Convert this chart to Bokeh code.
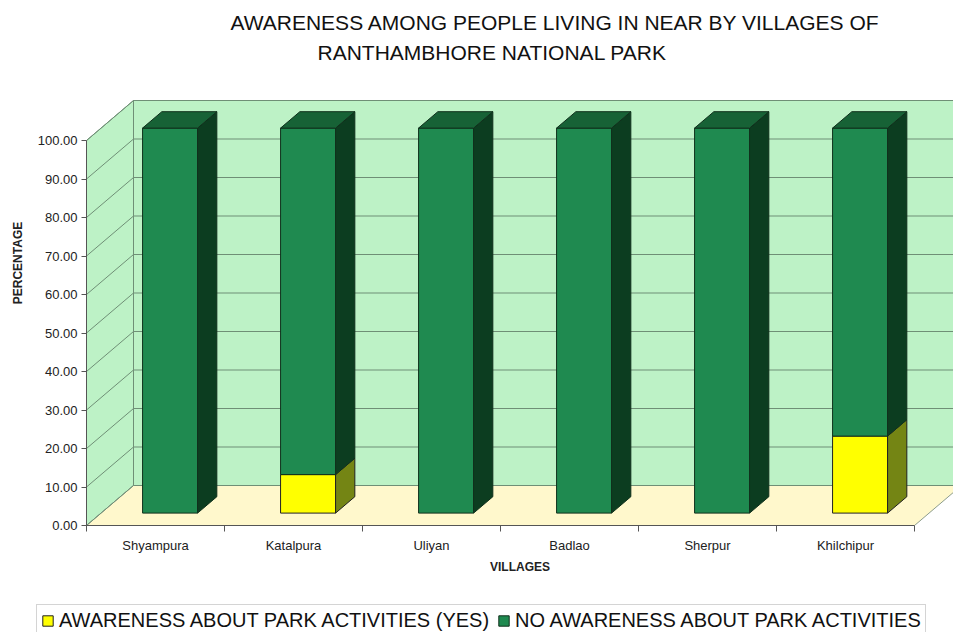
from bokeh.plotting import figure
from bokeh.models import (Range1d, FixedTicker, PrintfTickFormatter, Legend, LegendItem,
                          ColumnDataSource)
from bokeh.core.properties import value
from bokeh.embed import file_html
from bokeh.resources import INLINE

# ---------------- data ----------------
villages = ["Shyampura", "Katalpura", "Uliyan", "Badlao", "Sherpur", "Khilchipur"]
aware_yes = [0, 10, 0, 0, 0, 20]
aware_no = [100, 90, 100, 100, 100, 80]
y_ticks = [0, 10, 20, 30, 40, 50, 60, 70, 80, 90, 100]
series_names = ["AWARENESS ABOUT PARK ACTIVITIES (YES)", "NO AWARENESS ABOUT PARK ACTIVITIES"]
title_lines = ["AWARENESS AMONG PEOPLE LIVING IN NEAR BY VILLAGES OF",
               "RANTHAMBHORE  NATIONAL PARK"]

FONT = "Liberation Sans"

# ---------------- layout / 3D geometry ----------------
FRAME_LEFT = 86
FRAME_H = 525
PXX = 138.0      # px per category
PXY = 3.85       # px per percent
XMAX = 867.0 / PXX
YMAX = FRAME_H / PXY
DX = 47.0 / PXX  # depth offset of back wall
DY = 40.0 / PXY
F1, F2 = 0.31, 0.72  # bar front / back depth fractions
BW = 55.0 / PXX

face_cols = {
    "yes": ("#FFFF00", "#748514", "#B9B800", "#222222"),
    "no": ("#1F8A50", "#0C3D20", "#176236", "#10301C"),
}

p = figure(width=953, height=590, x_range=Range1d(0, XMAX), y_range=Range1d(0, YMAX),
           output_backend="svg", toolbar_location=None, title=None,
           min_border_left=FRAME_LEFT, min_border_right=0, min_border_top=0, min_border_bottom=65,
           background_fill_color="white", border_fill_color="white", outline_line_color=None)
p.xgrid.visible = False
p.ygrid.visible = False

wall = "#BDF2C6"
gridc = "#6F8F76"
n = len(villages)
# back wall and left wall
p.patch([DX, XMAX + 1, XMAX + 1, DX], [DY, DY, 100 + DY, 100 + DY],
        fill_color=wall, line_color=gridc, line_width=1)
p.patch([0, DX, DX, 0], [0, DY, 100 + DY, 100], fill_color=wall, line_color=gridc, line_width=1)
# floor
p.patch([0, n, n + DX, DX], [0, 0, DY, DY], fill_color="#FFF8CC", line_color="#8C9C8C", line_width=1)

# gridlines on back wall and left wall
p.segment(x0=[DX] * len(y_ticks), y0=[v + DY for v in y_ticks],
          x1=[XMAX + 1] * len(y_ticks), y1=[v + DY for v in y_ticks], line_color=gridc, line_width=1)
p.segment(x0=[0] * len(y_ticks), y0=y_ticks,
          x1=[DX] * len(y_ticks), y1=[v + DY for v in y_ticks], line_color=gridc, line_width=1)
p.segment(x0=[DX], y0=[DY], x1=[DX], y1=[100 + DY], line_color=gridc, line_width=1)

# ---------------- bars ----------------
faces = {k: {"front": ([], []), "side": ([], []), "top": ([], [])} for k in face_cols}
ddx = (F2 - F1) * DX
ddy = (F2 - F1) * DY
for i in range(n):
    cx = i + 0.5 + F1 * DX
    x0, x1 = cx - BW / 2, cx + BW / 2
    base = F1 * DY
    segs = [("yes", 0, aware_yes[i]), ("no", aware_yes[i], aware_yes[i] + aware_no[i])]
    segs = [s for s in segs if s[2] - s[1] > 0]
    for j, (k, lo, hi) in enumerate(segs):
        ylo, yhi = lo + base, hi + base
        faces[k]["front"][0].append([x0, x1, x1, x0])
        faces[k]["front"][1].append([ylo, ylo, yhi, yhi])
        faces[k]["side"][0].append([x1, x1 + ddx, x1 + ddx, x1])
        faces[k]["side"][1].append([ylo, ylo + ddy, yhi + ddy, yhi])
        if j == len(segs) - 1:
            faces[k]["top"][0].append([x0, x1, x1 + ddx, x0 + ddx])
            faces[k]["top"][1].append([yhi, yhi, yhi + ddy, yhi + ddy])

for k in ["yes", "no"]:
    fc, sc, tc, lc = face_cols[k]
    p.patches(faces[k]["front"][0], faces[k]["front"][1], fill_color=fc, line_color=lc, line_width=1)
    p.patches(faces[k]["side"][0], faces[k]["side"][1], fill_color=sc, line_color=lc, line_width=1)
    if faces[k]["top"][0]:
        p.patches(faces[k]["top"][0], faces[k]["top"][1], fill_color=tc, line_color=lc, line_width=1)

# ---------------- title (two lines, drawn in the empty area above the walls) ----------------
def px_to_x(px):
    return (px - FRAME_LEFT) / PXX

def py_to_y(py):
    return (FRAME_H - py) / PXY

p.text(x=[px_to_x(230), px_to_x(317)], y=[py_to_y(22), py_to_y(52)], text=title_lines,
       text_font=value(FONT), text_font_size="21px", text_align="left",
       text_baseline="middle", text_color="#111111")

# ---------------- axes ----------------
ya = p.yaxis[0]
ya.ticker = FixedTicker(ticks=y_ticks)
ya.formatter = PrintfTickFormatter(format="%.2f")
ya.bounds = (0, 100)
ya.axis_label = "PERCENTAGE"
ya.axis_label_text_font = FONT
ya.axis_label_text_font_style = "bold"
ya.axis_label_text_font_size = "12px"
ya.axis_label_text_color = "#222222"
ya.axis_label_standoff = 10
ya.major_label_text_font = FONT
ya.major_label_text_font_size = "13px"
ya.major_label_text_color = "#222222"
ya.major_label_standoff = 4
ya.major_tick_out = 5
ya.major_tick_in = 0
ya.minor_tick_out = 0
ya.minor_tick_in = 0
ya.axis_line_color = "#555555"
ya.major_tick_line_color = "#555555"

xa = p.xaxis[0]
xa.ticker = FixedTicker(ticks=[i + 0.5 for i in range(n)], minor_ticks=list(range(n + 1)))
xa.major_label_overrides = {i + 0.5: v for i, v in enumerate(villages)}
xa.bounds = (0, n)
xa.axis_label = "VILLAGES"
xa.axis_label_text_font = FONT
xa.axis_label_text_font_style = "bold"
xa.axis_label_text_font_size = "12px"
xa.axis_label_text_color = "#222222"
xa.axis_label_standoff = 4
xa.major_label_text_font = FONT
xa.major_label_text_font_size = "13px"
xa.major_label_text_color = "#222222"
xa.major_label_standoff = 6
xa.major_tick_out = 0
xa.major_tick_in = 0
xa.minor_tick_out = 6
xa.minor_tick_in = 0
xa.axis_line_color = "#555555"
xa.minor_tick_line_color = "#555555"

# ---------------- legend strip (separate root, so its frame spans the full width) ----------------
p2 = figure(width=953, height=42, x_range=Range1d(0, 1), y_range=Range1d(0, 1),
            output_backend="svg", toolbar_location=None, title=None,
            min_border_left=0, min_border_right=0, min_border_top=0, min_border_bottom=0,
            x_axis_location=None, y_axis_location=None, outline_line_color=None,
            background_fill_color="white", border_fill_color="white")
p2.xgrid.visible = False
p2.ygrid.visible = False
legend_renderers = []
for k in ["yes", "no"]:
    fc, sc, tc, lc = face_cols[k]
    # placeholder shape outside the visible range: only its legend swatch is shown
    src = ColumnDataSource(dict(xs=[[-10, -9, -9, -10]], ys=[[-10, -10, -9, -9]]))
    legend_renderers.append(p2.patches("xs", "ys", source=src, fill_color=fc, line_color=lc, line_width=1))

legend = Legend(items=[LegendItem(label=series_names[0], renderers=[legend_renderers[0]]),
                       LegendItem(label=series_names[1], renderers=[legend_renderers[1]])],
                orientation="horizontal", location=(36, -5),
                label_text_font=FONT, label_text_font_size="20px", label_text_color="#111111",
                glyph_width=13, glyph_height=13, label_standoff=5, spacing=8,
                padding=4, margin=0, border_line_color="#AAAAAA", background_fill_color="white")
p2.add_layout(legend, "center")

open("out.html", "w").write(file_html([p, p2], INLINE))
